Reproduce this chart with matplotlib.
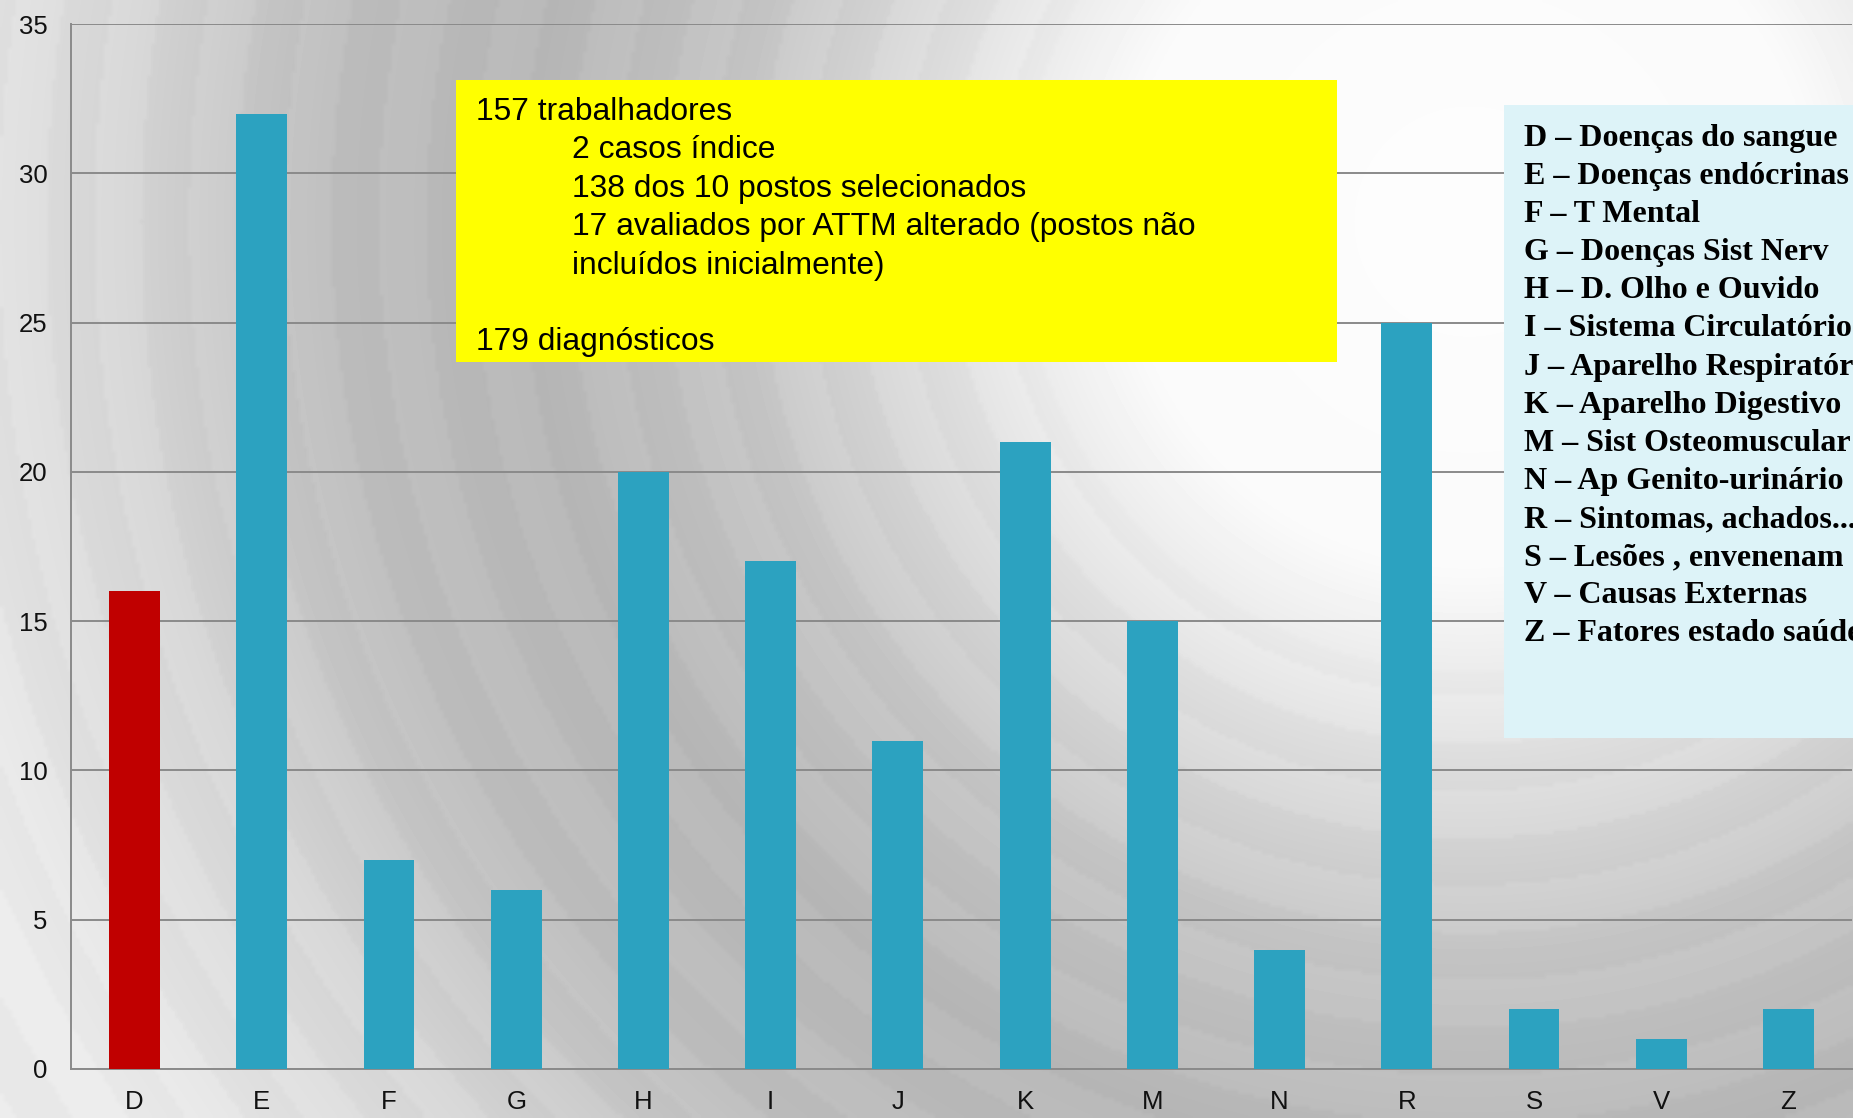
import numpy as np
import matplotlib
matplotlib.use("Agg")
import matplotlib.pyplot as plt
from matplotlib.patches import Rectangle

matplotlib.rcParams['font.family'] = ['Liberation Sans', 'DejaVu Sans']

# data
categories = ['D', 'E', 'F', 'G', 'H', 'I', 'J', 'K', 'M', 'N', 'R', 'S', 'V', 'Z']
counts = [16, 32, 7, 6, 20, 17, 11, 21, 15, 4, 25, 2, 1, 2]
highlight = ['D']

descriptions = ['Doenças do sangue', 'Doenças endócrinas', 'T Mental', 'Doenças Sist Nerv',
                'D. Olho e Ouvido', 'Sistema Circulatório', 'Aparelho Respiratório',
                'Aparelho Digestivo', 'Sist Osteomuscular', 'Ap Genito-urinário',
                'Sintomas, achados...', 'Lesões , envenenam', 'Causas Externas',
                'Fatores estado saúde']

note_lines = ['157 trabalhadores', '2 casos índice', '138 dos 10 postos selecionados',
              '17 avaliados por ATTM alterado (postos não', 'incluídos inicialmente)',
              '', '179 diagnósticos']
note_indent = [0, 1, 1, 1, 1, 0, 0]

W, H = 1853, 1118
fig = plt.figure(figsize=(W / 100, H / 100), dpi=100)

# background: grey radial rings
yy, xx = np.mgrid[0:H:4, 0:W:4]
r = np.hypot(xx - 1470, yy - 220)
val = np.interp(r, [0, 350, 550, 750, 950, 1150, 1350, 1600],
                [253, 250, 222, 196, 183, 190, 214, 234])
val = val + 2.5 * np.sign(np.sin(2 * np.pi * r / 95)) * (r > 450)
bg = fig.add_axes([0, 0, 1, 1], zorder=0)
bg.imshow(val, cmap='gray', vmin=0, vmax=255, extent=[0, W, H, 0],
          aspect='auto', interpolation='bilinear')
bg.axis('off')

# main chart
ax = fig.add_axes([71 / W, (H - 1069) / H, (1852 - 71) / W, 1045 / H], zorder=1)
ax.patch.set_alpha(0)
x = np.arange(len(categories))
colors = ['#C00000' if c in highlight else '#2CA2C0' for c in categories]
ax.bar(x, counts, width=0.4, color=colors, zorder=3)
ax.set_xlim(-0.5, len(categories) - 0.5)
ax.set_ylim(0, 35)
ax.set_yticks(range(0, 36, 5))
ax.set_xticks(x)
ax.set_xticklabels(categories)
ax.grid(axis='y', color='#8a8a8a', linewidth=1.4, zorder=1)
ax.set_axisbelow(True)
for s in ['top', 'right']:
    ax.spines[s].set_visible(False)
for s in ['left', 'bottom']:
    ax.spines[s].set_color('#8a8a8a')
    ax.spines[s].set_linewidth(1.4)
ax.tick_params(axis='both', length=0, labelsize=18.5, colors='#111111')
ax.tick_params(axis='y', pad=17)
ax.tick_params(axis='x', pad=15)

# overlay boxes in pixel coordinates
ov = fig.add_axes([0, 0, 1, 1], zorder=2)
ov.set_xlim(0, W)
ov.set_ylim(H, 0)
ov.axis('off')

ov.add_patch(Rectangle((456, 80), 881, 282, facecolor='#FFFF00', edgecolor='none'))
for i, line in enumerate(note_lines):
    ov.text(476 + 96 * note_indent[i], 120 + 38.4 * i, line, fontsize=22.9,
            va='baseline', ha='left', color='black')

ov.add_patch(Rectangle((1504, 105), 360, 633, facecolor='#DDF3F8', edgecolor='none'))
for i, (c, d) in enumerate(zip(categories, descriptions)):
    ov.text(1524, 146 + 38.1 * i, c + ' – ' + d, fontsize=23, fontweight='bold',
            family=['Liberation Serif', 'DejaVu Serif'], va='baseline', ha='left',
            color='black')

plt.savefig('out.png', dpi=100)
plt.close()
